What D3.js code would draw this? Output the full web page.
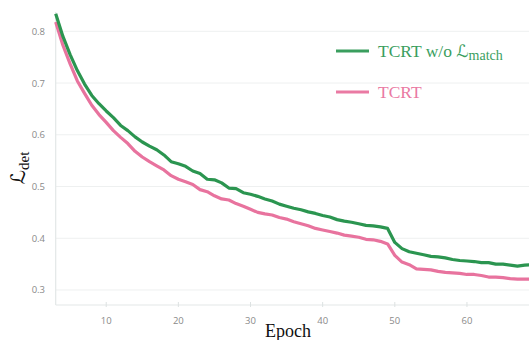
<!DOCTYPE html>
<html>
<head>
<meta charset="utf-8">
<script src="https://cdn.jsdelivr.net/npm/d3@7"></script>
<style>
  html, body { margin: 0; padding: 0; background: #fff; }
  svg { display: block; }
</style>
</head>
<body>
<svg id="chart" width="529" height="340"></svg>
<script>
const epochs = [3,4,5,6,7,8,9,10,11,12,13,14,15,16,17,18,19,20,21,22,23,24,25,26,27,28,29,30,31,32,33,34,35,36,37,38,39,40,41,42,43,44,45,46,47,48,49,50,51,52,53,54,55,56,57,58,59,60,61,62,63,64,65,66,67,68,69];
const lossWithoutMatch = [0.834,0.790,0.755,0.724,0.698,0.676,0.660,0.646,0.633,0.618,0.608,0.596,0.586,0.578,0.571,0.561,0.548,0.544,0.539,0.530,0.525,0.514,0.513,0.507,0.497,0.496,0.488,0.485,0.481,0.476,0.472,0.466,0.462,0.458,0.455,0.451,0.448,0.444,0.441,0.436,0.433,0.431,0.428,0.425,0.424,0.422,0.419,0.392,0.380,0.374,0.371,0.368,0.365,0.364,0.362,0.359,0.357,0.356,0.355,0.353,0.353,0.350,0.350,0.348,0.346,0.348,0.349];
const lossTCRT = [0.818,0.773,0.737,0.704,0.680,0.657,0.639,0.624,0.608,0.595,0.583,0.568,0.557,0.548,0.540,0.532,0.521,0.514,0.509,0.504,0.494,0.490,0.482,0.476,0.474,0.467,0.462,0.456,0.450,0.447,0.445,0.440,0.437,0.432,0.428,0.424,0.419,0.416,0.413,0.410,0.406,0.404,0.402,0.398,0.397,0.394,0.389,0.367,0.354,0.349,0.341,0.340,0.339,0.336,0.334,0.333,0.332,0.330,0.330,0.328,0.325,0.325,0.324,0.322,0.321,0.321,0.321];
const yTicks = [0.3,0.4,0.5,0.6,0.7,0.8];
const xTicks = [10,20,30,40,50,60];
const seriesNames = ["TCRT w/o ", "TCRT"];

const svg = d3.select("#chart");
const left = 55.7, bottom = 305;
const x = d3.scaleLinear().domain([3, 68.6]).range([left, 529]);
const y = d3.scaleLinear().domain([0.271, 0.845]).range([bottom, 8]);

// gridlines
svg.append("g").selectAll("line").data(yTicks).join("line")
  .attr("x1", left).attr("x2", 529)
  .attr("y1", d => y(d)).attr("y2", d => y(d))
  .attr("stroke", "#eef0f0").attr("stroke-width", 1);

// axes lines
svg.append("line").attr("x1", left).attr("x2", left).attr("y1", 12).attr("y2", bottom)
  .attr("stroke", "#e3e7e7").attr("stroke-width", 1.2);
svg.append("line").attr("x1", left).attr("x2", 529).attr("y1", bottom).attr("y2", bottom)
  .attr("stroke", "#e3e7e7").attr("stroke-width", 1.2);

// x ticks
const xg = svg.append("g");
xg.selectAll("line").data(xTicks).join("line")
  .attr("x1", d => x(d)).attr("x2", d => x(d))
  .attr("y1", bottom - 3).attr("y2", bottom + 2)
  .attr("stroke", "#dde2e2");
xg.selectAll("text").data(xTicks).join("text")
  .attr("x", d => x(d)).attr("y", 324)
  .attr("text-anchor", "middle")
  .attr("font-family", "'Open Sans', 'Noto Sans', sans-serif")
  .attr("font-size", 9.5).attr("fill", "#8a8a8a")
  .text(d => d);

// y tick labels
svg.append("g").selectAll("text").data(yTicks).join("text")
  .attr("x", 45).attr("y", d => y(d) + 3.5)
  .attr("text-anchor", "end")
  .attr("font-family", "'Open Sans', 'Noto Sans', sans-serif")
  .attr("font-size", 9.5).attr("fill", "#8a8a8a")
  .text(d => d.toFixed(1));

const green = "#2b9550", pink = "#e8739e";
const line = d3.line().x((d, i) => x(epochs[i])).y(d => y(d));

svg.append("path").datum(lossTCRT).attr("d", line)
  .attr("fill", "none").attr("stroke", pink).attr("stroke-width", 3.2)
  .attr("stroke-linejoin", "round");
svg.append("path").datum(lossWithoutMatch).attr("d", line)
  .attr("fill", "none").attr("stroke", green).attr("stroke-width", 3.2)
  .attr("stroke-linejoin", "round");

// legend
const serif = "'Liberation Serif', 'DejaVu Serif', serif";
svg.append("line").attr("x1", 336).attr("x2", 369).attr("y1", 51).attr("y2", 51)
  .attr("stroke", "#3a9e5e").attr("stroke-width", 3);
const t1 = svg.append("text").attr("x", 378).attr("y", 57)
  .attr("font-family", serif).attr("font-size", 17.5).attr("fill", "#3a9e5e");
t1.append("tspan").text(seriesNames[0]);
t1.append("tspan").attr("font-family", "'DejaVu Sans', sans-serif").attr("font-size", 17).text("ℒ");
t1.append("tspan").attr("font-size", 14).attr("dy", 3).text("match");

svg.append("line").attr("x1", 336).attr("x2", 369).attr("y1", 92).attr("y2", 92)
  .attr("stroke", "#ea7aa3").attr("stroke-width", 3);
svg.append("text").attr("x", 378).attr("y", 98)
  .attr("font-family", serif).attr("font-size", 17.5).attr("fill", "#ea7aa3")
  .text(seriesNames[1]);

// axis titles
svg.append("text").attr("x", 288).attr("y", 337)
  .attr("text-anchor", "middle").attr("font-family", serif).attr("font-size", 18)
  .attr("fill", "#111").text("Epoch");
const yl = svg.append("text").attr("transform", "translate(25,168) rotate(-90)")
  .attr("text-anchor", "middle").attr("font-family", serif).attr("font-size", 18).attr("fill", "#111");
yl.append("tspan").attr("font-family", "'DejaVu Sans', sans-serif").attr("font-size", 20).text("ℒ");
yl.append("tspan").attr("dy", 4).attr("font-size", 15).text("det");
</script>
</body>
</html>
